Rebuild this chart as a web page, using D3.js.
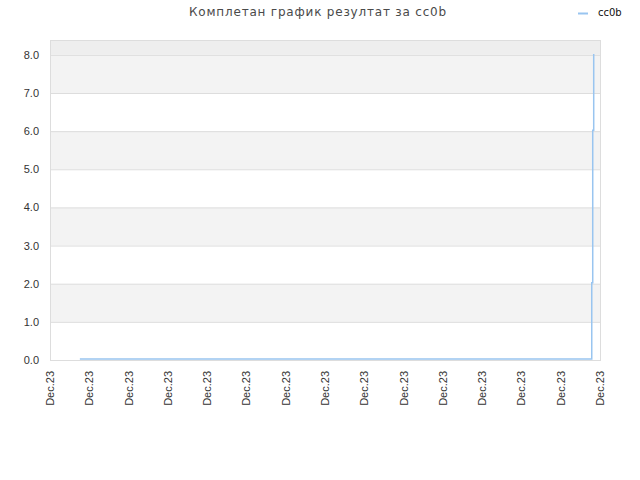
<!DOCTYPE html>
<html><head><meta charset="utf-8">
<script src="https://cdn.jsdelivr.net/npm/d3@7"></script>
<style>body{margin:0;background:#fff}</style>
</head><body><div id="c"></div>
<script>
const title = "Комплетан график резултат за cc0b";
const seriesName = "cc0b";
const xTickLabels = ["Dec.23","Dec.23","Dec.23","Dec.23","Dec.23","Dec.23","Dec.23","Dec.23","Dec.23","Dec.23","Dec.23","Dec.23","Dec.23","Dec.23","Dec.23"];
const yTicks = [0,1,2,3,4,5,6,7,8];
const xPos = [0.76, 13.79, 13.79, 13.815, 13.815, 13.84, 13.84];
const yVals = [0, 0, 2, 2, 6, 6, 8];

const W = 640, H = 480;
const m = {l:50, r:40, t:40, b:120};
const svg = d3.select("#c").append("svg").attr("width",W).attr("height",H);
const x = d3.scaleLinear().domain([0, xTickLabels.length-1]).range([m.l, W-m.r]);
const y = d3.scaleLinear().domain([0, 8.39]).range([H-m.b, m.t]);

// background
svg.append("rect").attr("x",m.l).attr("y",m.t).attr("width",W-m.l-m.r).attr("height",y(8)-m.t).attr("fill","#eeeeee");
for (let i=0;i<8;i++){
  svg.append("rect").attr("x",m.l).attr("y",y(i+1)).attr("width",W-m.l-m.r).attr("height",y(i)-y(i+1))
    .attr("fill", i%2===1 ? "#f3f3f3" : "#ffffff");
}
// grid
svg.append("g").selectAll("line").data(yTicks).join("line")
  .attr("x1",m.l).attr("x2",W-m.r).attr("y1",d=>y(d)+0.5).attr("y2",d=>y(d)+0.5)
  .attr("stroke","#dddddd");
svg.append("rect").attr("x",m.l+0.5).attr("y",m.t+0.5).attr("width",W-m.l-m.r).attr("height",H-m.b-m.t)
  .attr("fill","none").attr("stroke","#dddddd");

// y axis labels
svg.append("g").selectAll("text").data(yTicks).join("text")
  .attr("x",m.l-11).attr("y",d=>y(d)+4).attr("text-anchor","end")
  .attr("font-family","Liberation Sans, Arial, sans-serif").attr("font-size",11).attr("fill","#333")
  .text(d=>d.toFixed(1));

// x axis labels
svg.append("g").selectAll("text").data(xTickLabels).join("text")
  .attr("transform",(d,i)=>`translate(${x(i)+4},${H-m.b+11}) rotate(-90)`)
  .attr("text-anchor","end")
  .attr("font-family","Liberation Sans, Arial, sans-serif").attr("font-size",11).attr("fill","#333")
  .text(d=>d);

// line
const pts = xPos.map((v,i)=>[v, yVals[i]]);
svg.append("path").datum(pts)
  .attr("d", d3.line().x(d=>x(d[0])).y(d=>y(d[1])-1))
  .attr("fill","none").attr("stroke","#99c5f0").attr("stroke-width",1.5);

// title
svg.append("text").attr("x",318).attr("y",16).attr("text-anchor","middle")
  .attr("font-family","DejaVu Sans, sans-serif").attr("font-size",12).attr("fill","#4a4a4a")
  .attr("letter-spacing","0.8px")
  .text(title);

// legend
svg.append("line").attr("x1",578).attr("x2",588).attr("y1",13.5).attr("y2",13.5).attr("stroke","#99c5f0").attr("stroke-width",2);
svg.append("text").attr("x",598).attr("y",16).attr("font-family","DejaVu Sans, sans-serif").attr("font-size",10).attr("fill","#111").text(seriesName);
</script></body></html>
